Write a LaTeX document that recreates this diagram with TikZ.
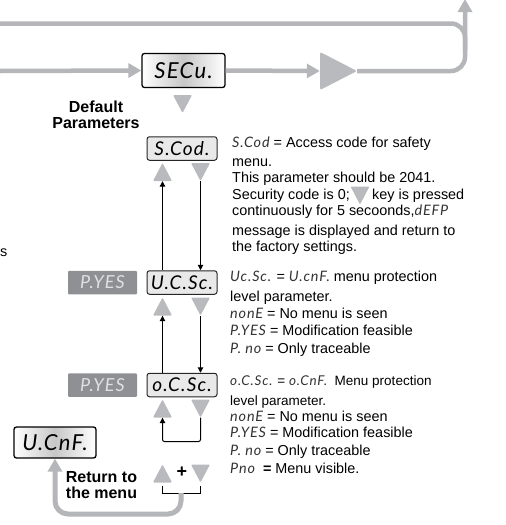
\documentclass[tikz,border=0pt]{standalone}
\usepackage{fontspec}
\setmainfont{Liberation Sans}
\newfontfamily\segfont[LetterSpace=6]{Lato}
\usetikzlibrary{arrows.meta,calc}
\definecolor{flow}{HTML}{B5B6B9}
\definecolor{key}{HTML}{B9BABD}
\definecolor{badge}{HTML}{8F9093}
\definecolor{panel}{HTML}{E9E9EA}
\newcommand{\seg}[1]{{\segfont\itshape\color{black!80} #1}}
\newcommand{\upkey}[3]{%
  \fill[key,rounded corners=1pt] (#2-9.5,#3+9) -- (#2,#3-9) -- (#2+9.5,#3+9) -- cycle;
  \node[keybox] (#1) at (#2,#3) {};}
\newcommand{\downkey}[3]{%
  \fill[key,rounded corners=1pt] (#2-9.5,#3-9) -- (#2,#3+9) -- (#2+9.5,#3-9) -- cycle;
  \node[keybox] (#1) at (#2,#3) {};}
\tikzset{
  keybox/.style={inner sep=0pt,minimum width=19pt,minimum height=18pt},
  flowline/.style={draw=flow,line width=4.5pt},
  flowtip/.style={-{Triangle[length=13pt,width=14pt]}},
  thin link/.style={draw=black,line width=1pt,-{Triangle[length=5.5pt,width=5.5pt]}},
  dispbig/.style={draw=black,line width=1.3pt,rounded corners=2.5pt,inner sep=0pt,
    left color=white,right color=white,middle color=black!22,
    font=\segfont\itshape\fontsize{22}{22}\selectfont},
  disp/.style={draw=black!85,line width=1pt,rounded corners=2.5pt,fill=panel,inner sep=0pt,
    minimum width=70pt,minimum height=23.5pt,font=\segfont\itshape\fontsize{19}{19}\selectfont},
  badgebox/.style={fill=badge,text=white!88!black,rounded corners=1pt,inner sep=0pt,
    minimum width=69pt,minimum height=23.5pt,font=\segfont\itshape\fontsize{18}{18}\selectfont},
  body/.style={anchor=base west,inner sep=0pt,font=\fontsize{14.4}{14.4}\selectfont},
  smallbody/.style={anchor=base west,inner sep=0pt,font=\fontsize{13.5}{14}\selectfont},
  heading/.style={align=center,inner sep=0pt,font=\bfseries\fontsize{16}{16}\selectfont},
}
\begin{document}
\begin{tikzpicture}[x=1pt,y=-1pt]
\useasboundingbox (0,0) rectangle (506,525);
% displays
\node[dispbig,minimum width=83pt,minimum height=34pt] (secu) at (183.5,70.5) {SECu.};
\node[dispbig,minimum width=82pt,minimum height=31pt] (ucnf) at (55,442.5) {U.CnF.};
\node[disp] (scod) at (182,148.5) {S.Cod.};
\node[disp] (ucsc) at (182,282.5) {U.C.Sc.};
\node[disp] (ocsc) at (182,385) {o.C.Sc.};
\node[badgebox] (py1) at (102.5,282.5) {P.YES};
\node[badgebox] (py2) at (102.5,385) {P.YES};
% big triangle
\fill[key,rounded corners=2pt] (320,52) -- (357,71) -- (320,90) -- cycle;
\node[inner sep=0pt,minimum width=37pt,minimum height=38pt] (bigtri) at (338.5,71) {};
% flow lines
\coordinate (inA) at (0,23.5);
\coordinate (inB) at (0,71);
\coordinate (outTop) at (465,-1);
\coordinate (turnA) at (465,23.5);
\coordinate (joinA) at (465,50);
\coordinate (turnB) at (465,71);
\draw[flowline,rounded corners=14pt] (inA) -- (turnA) -- (joinA);
\draw[flowline,flowtip] (inB) -- (secu.west);
\draw[flowline,flowtip] (secu.east) -- (bigtri.west);
\draw[flowline,flowtip,rounded corners=14pt] (bigtri.east) -- (turnB) -- (outTop);
% keys
\downkey{dsec}{182.5}{104}
\upkey{u1}{162.5}{172}
\downkey{d1}{200.5}{172}
\upkey{u2}{162.5}{306.5}
\downkey{d2}{200.5}{306.5}
\upkey{u3}{162.5}{408.5}
\downkey{d3}{200.5}{408.5}
\upkey{u4}{162.5}{473.5}
\downkey{d4}{200.5}{473.5}
\downkey{dtext}{360}{195.5}
% thin arrows
\draw[thin link] (u1.south |- ucsc.north) -- (u1.south);
\draw[thin link] (d1.south) -- (d1.south |- ucsc.north);
\draw[thin link] (u2.south |- ocsc.north) -- (u2.south);
\draw[thin link] (d2.south) -- (d2.south |- ocsc.north);
\coordinate (loopR) at (200.5,441.5);
\coordinate (loopL) at (162.5,441.5);
\draw[thin link,rounded corners=2pt] (d3.south) -- (loopR) -- (loopL) -- (u3.south);
% plus bracket
\node[inner sep=0pt,font=\bfseries\fontsize{18}{18}\selectfont] (plus) at (182,472.5) {+};
\coordinate (brL0) at (162.5,485.5);
\coordinate (brR0) at (200.5,485.5);
\coordinate (brL) at (162.5,493);
\coordinate (brR) at (200.5,493);
\coordinate (brM) at (181,493);
\draw[black,line width=1pt] (brL0) -- (brL) -- (brR) -- (brR0);
% return arrow
\coordinate (retB) at (181,514);
\coordinate (retA) at (55,514);
\draw[flowline,flowtip,line width=5pt,rounded corners=13pt] (brM) -- (retB) -- (retA) -- (ucnf.south);
% labels
\node[heading] (deflab) at (96,115) {Default\\Parameters};
\node[heading,align=left] (retlab) at (101.5,485.5) {Return to\\the menu};
\node[body] (cut) at (0,256) {s};
% block 1
\node[body] (a1) at (232,147.5) {\seg{S.Cod} = Access code for safety};
\node[body] (a2) at (232,166.5) {menu.};
\node[body] (a3) at (232,182.5) {This parameter should be 2041.};
\node[body] (a4) at (232,199) {Security code is 0;};
\node[body] (a4b) at (372,199) {key is pressed};
\node[body] (a5) at (232,215.5) {continuously for 5 secoonds,\seg{dEFP}};
\node[body] (a6) at (232,235) {message is displayed and return to};
\node[body] (a7) at (232,251.5) {the factory settings.};
% block 2
\node[body] (b1) at (230,281.5) {\seg{Uc.Sc.} = \seg{U.cnF.} menu protection};
\node[body] (b2) at (230,301.5) {level parameter.};
\node[body] (b3) at (230,318) {\seg{nonE} = No menu is seen};
\node[body] (b4) at (230,335.5) {\seg{P.YES} = Modification feasible};
\node[body] (b5) at (230,353) {\seg{P. no} = Only traceable};
% block 3
\node[smallbody] (c1) at (230,385.5) {\seg{o.C.Sc.} = \seg{o.CnF.}\ \ Menu protection};
\node[smallbody] (c2) at (230,405) {level parameter.};
\node[body] (c3) at (230,421) {\seg{nonE} = No menu is seen};
\node[body] (c4) at (230,437) {\seg{P.YES} = Modification feasible};
\node[body] (c5) at (230,455) {\seg{P. no} = Only traceable};
\node[body] (c6) at (230,473) {\seg{Pno}\ \ \textbf{=} Menu visible.};
\end{tikzpicture}
\end{document}
